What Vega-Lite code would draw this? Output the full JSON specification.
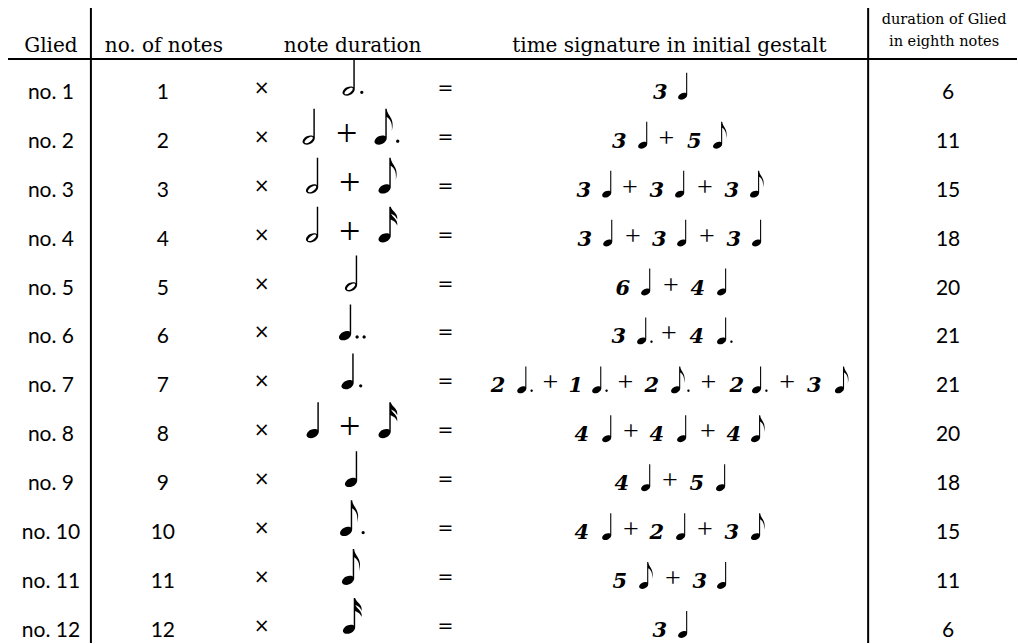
{
  "$schema": "https://vega.github.io/schema/vega-lite/v6.json",
  "width": 1018,
  "height": 644,
  "padding": 0,
  "autosize": {"type": "fit", "contains": "padding"},
  "background": "white",
  "config": {"view": {"stroke": null}},
  "datasets": {
    "lines": [
      {"x": 91, "x2": 91, "r": -0.694, "r2": 12.2857},
      {"x": 869, "x2": 869, "r": -0.694, "r2": 12.2857},
      {"x": 8, "x2": 1018, "r": 0.3469, "r2": 0.3469}
    ],
    "cells": [
      {"r": 0.2041, "x": 51, "t": "Glied", "k": "hd"},
      {"r": 0.2041, "x": 164, "t": "no. of notes", "k": "hd"},
      {"r": 0.2041, "x": 353, "t": "note duration", "k": "hd"},
      {"r": 0.2041, "x": 670, "t": "time signature in initial gestalt", "k": "hd"},
      {"r": -0.367, "x": 945, "t": "duration of Glied", "k": "hd2"},
      {"r": 0.0816, "x": 945, "t": "in eighth notes", "k": "hd2"},

      {"r": 1, "x": 51, "t": "no. 1", "k": "lab"},
      {"r": 2, "x": 51, "t": "no. 2", "k": "lab"},
      {"r": 3, "x": 51, "t": "no. 3", "k": "lab"},
      {"r": 4, "x": 51, "t": "no. 4", "k": "lab"},
      {"r": 5, "x": 51, "t": "no. 5", "k": "lab"},
      {"r": 6, "x": 51, "t": "no. 6", "k": "lab"},
      {"r": 7, "x": 51, "t": "no. 7", "k": "lab"},
      {"r": 8, "x": 51, "t": "no. 8", "k": "lab"},
      {"r": 9, "x": 51, "t": "no. 9", "k": "lab"},
      {"r": 10, "x": 51, "t": "no. 10", "k": "lab"},
      {"r": 11, "x": 51, "t": "no. 11", "k": "lab"},
      {"r": 12, "x": 51, "t": "no. 12", "k": "lab"},

      {"r": 1, "x": 163, "t": "1", "k": "lab"},
      {"r": 2, "x": 163, "t": "2", "k": "lab"},
      {"r": 3, "x": 163, "t": "3", "k": "lab"},
      {"r": 4, "x": 163, "t": "4", "k": "lab"},
      {"r": 5, "x": 163, "t": "5", "k": "lab"},
      {"r": 6, "x": 163, "t": "6", "k": "lab"},
      {"r": 7, "x": 163, "t": "7", "k": "lab"},
      {"r": 8, "x": 163, "t": "8", "k": "lab"},
      {"r": 9, "x": 163, "t": "9", "k": "lab"},
      {"r": 10, "x": 163, "t": "10", "k": "lab"},
      {"r": 11, "x": 163, "t": "11", "k": "lab"},
      {"r": 12, "x": 163, "t": "12", "k": "lab"},

      {"r": 1, "x": 949, "t": "6", "k": "lab"},
      {"r": 2, "x": 949, "t": "11", "k": "lab"},
      {"r": 3, "x": 949, "t": "15", "k": "lab"},
      {"r": 4, "x": 949, "t": "18", "k": "lab"},
      {"r": 5, "x": 949, "t": "20", "k": "lab"},
      {"r": 6, "x": 949, "t": "21", "k": "lab"},
      {"r": 7, "x": 949, "t": "21", "k": "lab"},
      {"r": 8, "x": 949, "t": "20", "k": "lab"},
      {"r": 9, "x": 949, "t": "18", "k": "lab"},
      {"r": 10, "x": 949, "t": "15", "k": "lab"},
      {"r": 11, "x": 949, "t": "11", "k": "lab"},
      {"r": 12, "x": 949, "t": "6", "k": "lab"},

      {"r": 1, "x": 262, "t": "×", "k": "op"}, {"r": 1, "x": 446, "t": "=", "k": "op"},
      {"r": 2, "x": 262, "t": "×", "k": "op"}, {"r": 2, "x": 446, "t": "=", "k": "op"},
      {"r": 3, "x": 262, "t": "×", "k": "op"}, {"r": 3, "x": 446, "t": "=", "k": "op"},
      {"r": 4, "x": 262, "t": "×", "k": "op"}, {"r": 4, "x": 446, "t": "=", "k": "op"},
      {"r": 5, "x": 262, "t": "×", "k": "op"}, {"r": 5, "x": 446, "t": "=", "k": "op"},
      {"r": 6, "x": 262, "t": "×", "k": "op"}, {"r": 6, "x": 446, "t": "=", "k": "op"},
      {"r": 7, "x": 262, "t": "×", "k": "op"}, {"r": 7, "x": 446, "t": "=", "k": "op"},
      {"r": 8, "x": 262, "t": "×", "k": "op"}, {"r": 8, "x": 446, "t": "=", "k": "op"},
      {"r": 9, "x": 262, "t": "×", "k": "op"}, {"r": 9, "x": 446, "t": "=", "k": "op"},
      {"r": 10, "x": 262, "t": "×", "k": "op"}, {"r": 10, "x": 446, "t": "=", "k": "op"},
      {"r": 11, "x": 262, "t": "×", "k": "op"}, {"r": 11, "x": 446, "t": "=", "k": "op"},
      {"r": 12, "x": 262, "t": "×", "k": "op"}, {"r": 12, "x": 446, "t": "=", "k": "op"},

      {"r": 1, "x": 352.6, "t": "hd", "k": "bn"},
      {"r": 2, "x": 312.6, "t": "h", "k": "bn"}, {"r": 2, "x": 347, "t": "+", "k": "bp"}, {"r": 2, "x": 384.6, "t": "ed", "k": "bn"},
      {"r": 3, "x": 316, "t": "h", "k": "bn"}, {"r": 3, "x": 350, "t": "+", "k": "bp"}, {"r": 3, "x": 388.6, "t": "e", "k": "bn"},
      {"r": 4, "x": 316, "t": "h", "k": "bn"}, {"r": 4, "x": 350, "t": "+", "k": "bp"}, {"r": 4, "x": 388.6, "t": "s", "k": "bn"},
      {"r": 5, "x": 355, "t": "h", "k": "bn"},
      {"r": 6, "x": 349, "t": "qdd", "k": "bn"},
      {"r": 7, "x": 351.5, "t": "qd", "k": "bn"},
      {"r": 8, "x": 316.6, "t": "q", "k": "bn"}, {"r": 8, "x": 350, "t": "+", "k": "bp"}, {"r": 8, "x": 388.6, "t": "s", "k": "bn"},
      {"r": 9, "x": 355, "t": "q", "k": "bn"},
      {"r": 10, "x": 350, "t": "ed", "k": "bn"},
      {"r": 11, "x": 352, "t": "e", "k": "bn"},
      {"r": 12, "x": 353, "t": "s", "k": "bn"},

      {"r": 1, "x": 661, "t": "3", "k": "num"}, {"r": 1, "x": 686, "t": "q", "k": "sn"},

      {"r": 2, "x": 620, "t": "3", "k": "num"}, {"r": 2, "x": 646, "t": "q", "k": "sn"}, {"r": 2, "x": 667, "t": "+", "k": "sp"},
      {"r": 2, "x": 695, "t": "5", "k": "num"}, {"r": 2, "x": 721, "t": "e", "k": "sn"},

      {"r": 3, "x": 584.5, "t": "3", "k": "num"}, {"r": 3, "x": 610, "t": "q", "k": "sn"}, {"r": 3, "x": 630.5, "t": "+", "k": "sp"},
      {"r": 3, "x": 657.5, "t": "3", "k": "num"}, {"r": 3, "x": 683, "t": "q", "k": "sn"}, {"r": 3, "x": 705.5, "t": "+", "k": "sp"},
      {"r": 3, "x": 732.5, "t": "3", "k": "num"}, {"r": 3, "x": 758, "t": "e", "k": "sn"},

      {"r": 4, "x": 585.5, "t": "3", "k": "num"}, {"r": 4, "x": 611, "t": "q", "k": "sn"}, {"r": 4, "x": 633.5, "t": "+", "k": "sp"},
      {"r": 4, "x": 660, "t": "3", "k": "num"}, {"r": 4, "x": 685, "t": "q", "k": "sn"}, {"r": 4, "x": 707.5, "t": "+", "k": "sp"},
      {"r": 4, "x": 734.5, "t": "3", "k": "num"}, {"r": 4, "x": 760, "t": "q", "k": "sn"},

      {"r": 5, "x": 623.5, "t": "6", "k": "num"}, {"r": 5, "x": 649, "t": "q", "k": "sn"}, {"r": 5, "x": 671.5, "t": "+", "k": "sp"},
      {"r": 5, "x": 698.5, "t": "4", "k": "num"}, {"r": 5, "x": 725, "t": "q", "k": "sn"},

      {"r": 6, "x": 619.5, "t": "3", "k": "num"}, {"r": 6, "x": 645, "t": "qd", "k": "sn"}, {"r": 6, "x": 669.5, "t": "+", "k": "sp"},
      {"r": 6, "x": 697.5, "t": "4", "k": "num"}, {"r": 6, "x": 725, "t": "qd", "k": "sn"},

      {"r": 7, "x": 498.5, "t": "2", "k": "num"}, {"r": 7, "x": 525, "t": "qd", "k": "sn"}, {"r": 7, "x": 551, "t": "+", "k": "sp"},
      {"r": 7, "x": 576.5, "t": "1", "k": "num"}, {"r": 7, "x": 600, "t": "qd", "k": "sn"}, {"r": 7, "x": 626, "t": "+", "k": "sp"},
      {"r": 7, "x": 652.5, "t": "2", "k": "num"}, {"r": 7, "x": 679, "t": "ed", "k": "sn"}, {"r": 7, "x": 709, "t": "+", "k": "sp"},
      {"r": 7, "x": 737.5, "t": "2", "k": "num"}, {"r": 7, "x": 760, "t": "qd", "k": "sn"}, {"r": 7, "x": 788, "t": "+", "k": "sp"},
      {"r": 7, "x": 815, "t": "3", "k": "num"}, {"r": 7, "x": 843, "t": "e", "k": "sn"},

      {"r": 8, "x": 582.5, "t": "4", "k": "num"}, {"r": 8, "x": 610, "t": "q", "k": "sn"}, {"r": 8, "x": 631.5, "t": "+", "k": "sp"},
      {"r": 8, "x": 657.5, "t": "4", "k": "num"}, {"r": 8, "x": 685, "t": "q", "k": "sn"}, {"r": 8, "x": 708.5, "t": "+", "k": "sp"},
      {"r": 8, "x": 734.5, "t": "4", "k": "num"}, {"r": 8, "x": 759, "t": "e", "k": "sn"},

      {"r": 9, "x": 622.5, "t": "4", "k": "num"}, {"r": 9, "x": 649, "t": "q", "k": "sn"}, {"r": 9, "x": 670.5, "t": "+", "k": "sp"},
      {"r": 9, "x": 697.5, "t": "5", "k": "num"}, {"r": 9, "x": 724, "t": "q", "k": "sn"},

      {"r": 10, "x": 582.5, "t": "4", "k": "num"}, {"r": 10, "x": 610, "t": "q", "k": "sn"}, {"r": 10, "x": 631.5, "t": "+", "k": "sp"},
      {"r": 10, "x": 657.5, "t": "2", "k": "num"}, {"r": 10, "x": 684, "t": "q", "k": "sn"}, {"r": 10, "x": 705.5, "t": "+", "k": "sp"},
      {"r": 10, "x": 732.5, "t": "3", "k": "num"}, {"r": 10, "x": 759, "t": "e", "k": "sn"},

      {"r": 11, "x": 620.5, "t": "5", "k": "num"}, {"r": 11, "x": 647, "t": "e", "k": "sn"}, {"r": 11, "x": 673.5, "t": "+", "k": "sp"},
      {"r": 11, "x": 700.5, "t": "3", "k": "num"}, {"r": 11, "x": 725, "t": "q", "k": "sn"},

      {"r": 12, "x": 660.5, "t": "3", "k": "num"}, {"r": 12, "x": 686, "t": "q", "k": "sn"}
    ]
  },
  "layer": [
    {
      "data": {"name": "lines"},
      "mark": {"type": "rule", "color": "black", "strokeWidth": 2},
      "encoding": {
        "x": {"field": "x", "type": "quantitative", "scale": {"domain": [0, 1018], "nice": false, "zero": false}, "axis": null},
        "x2": {"field": "x2"},
        "y": {"field": "r", "type": "quantitative", "scale": {"domain": [-0.857143, 12.285714], "reverse": true, "nice": false, "zero": false}, "axis": null},
        "y2": {"field": "r2"}
      }
    },
    {
      "data": {"name": "cells"},
      "transform": [{"filter": "datum.k === 'hd'"}],
      "mark": {"type": "text", "font": "DejaVu Serif", "fontSize": 20, "align": "center", "baseline": "alphabetic", "color": "black"},
      "encoding": {
        "x": {"field": "x", "type": "quantitative"},
        "y": {"field": "r", "type": "quantitative"},
        "text": {"field": "t"}
      }
    },
    {
      "data": {"name": "cells"},
      "transform": [{"filter": "datum.k === 'hd2'"}],
      "mark": {"type": "text", "font": "DejaVu Serif", "fontSize": 14.5, "align": "center", "baseline": "alphabetic", "color": "black"},
      "encoding": {
        "x": {"field": "x", "type": "quantitative"},
        "y": {"field": "r", "type": "quantitative"},
        "text": {"field": "t"}
      }
    },
    {
      "data": {"name": "cells"},
      "transform": [{"filter": "datum.k === 'lab'"}],
      "mark": {"type": "text", "font": "Lato", "fontSize": 21, "align": "center", "baseline": "alphabetic", "yOffset": 8, "color": "black"},
      "encoding": {
        "x": {"field": "x", "type": "quantitative"},
        "y": {"field": "r", "type": "quantitative"},
        "text": {"field": "t"}
      }
    },
    {
      "data": {"name": "cells"},
      "transform": [{"filter": "datum.k === 'op'"}],
      "mark": {"type": "text", "font": "DejaVu Sans", "fontSize": 19, "align": "center", "baseline": "middle", "yOffset": -3, "color": "black"},
      "encoding": {
        "x": {"field": "x", "type": "quantitative"},
        "y": {"field": "r", "type": "quantitative"},
        "text": {"field": "t"}
      }
    },
    {
      "data": {"name": "cells"},
      "transform": [{"filter": "datum.k === 'bp'"}],
      "mark": {"type": "text", "font": "Liberation Serif", "fontSize": 38, "align": "center", "baseline": "middle", "yOffset": -5, "color": "black"},
      "encoding": {
        "x": {"field": "x", "type": "quantitative"},
        "y": {"field": "r", "type": "quantitative"},
        "text": {"field": "t"}
      }
    },
    {
      "data": {"name": "cells"},
      "transform": [{"filter": "datum.k === 'sp'"}],
      "mark": {"type": "text", "font": "Liberation Serif", "fontSize": 28, "align": "center", "baseline": "middle", "yOffset": -1, "color": "black"},
      "encoding": {
        "x": {"field": "x", "type": "quantitative"},
        "y": {"field": "r", "type": "quantitative"},
        "text": {"field": "t"}
      }
    },
    {
      "data": {"name": "cells"},
      "transform": [{"filter": "datum.k === 'num'"}],
      "mark": {"type": "text", "font": "DejaVu Serif", "fontSize": 21, "fontWeight": "bold", "fontStyle": "italic", "align": "center", "baseline": "alphabetic", "yOffset": 8, "color": "black"},
      "encoding": {
        "x": {"field": "x", "type": "quantitative"},
        "y": {"field": "r", "type": "quantitative"},
        "text": {"field": "t"}
      }
    },
    {
      "data": {"name": "cells"},
      "transform": [{"filter": "datum.k === 'bn'"}],
      "mark": {"type": "point", "filled": true, "size": 1296, "opacity": 1, "color": "black", "strokeWidth": 0, "yOffset": -13},
      "encoding": {
        "x": {"field": "x", "type": "quantitative"},
        "y": {"field": "r", "type": "quantitative"},
        "shape": {
          "field": "t", "type": "nominal", "legend": null,
          "scale": {
            "domain": ["h", "hd", "q", "qd", "qdd", "e", "ed", "s"],
            "range": [
              "M-0.526,0.887A0.36,0.24,-25,0,1,0.126,0.583A0.36,0.24,-25,0,1,-0.526,0.887ZM-0.421,0.89A0.27,0.12,-35,0,0,0.021,0.58A0.27,0.12,-35,0,0,-0.421,0.89ZM0.06,0.65L0.06,-1L0.14,-1L0.14,0.65Z",
              "M-0.526,0.887A0.36,0.24,-25,0,1,0.126,0.583A0.36,0.24,-25,0,1,-0.526,0.887ZM-0.421,0.89A0.27,0.12,-35,0,0,0.021,0.58A0.27,0.12,-35,0,0,-0.421,0.89ZM0.06,0.65L0.06,-1L0.14,-1L0.14,0.65ZM0.44,0.8A0.09,0.09,0,0,1,0.62,0.8A0.09,0.09,0,0,1,0.44,0.8Z",
              "M-0.526,0.887A0.36,0.24,-25,0,1,0.126,0.583A0.36,0.24,-25,0,1,-0.526,0.887ZM0.06,0.65L0.06,-1L0.14,-1L0.14,0.65Z",
              "M-0.526,0.887A0.36,0.24,-25,0,1,0.126,0.583A0.36,0.24,-25,0,1,-0.526,0.887ZM0.06,0.65L0.06,-1L0.14,-1L0.14,0.65ZM0.44,0.8A0.09,0.09,0,0,1,0.62,0.8A0.09,0.09,0,0,1,0.44,0.8Z",
              "M-0.526,0.887A0.36,0.24,-25,0,1,0.126,0.583A0.36,0.24,-25,0,1,-0.526,0.887ZM0.06,0.65L0.06,-1L0.14,-1L0.14,0.65ZM0.38,0.8A0.09,0.09,0,0,1,0.56,0.8A0.09,0.09,0,0,1,0.38,0.8ZM0.77,0.8A0.09,0.09,0,0,1,0.95,0.8A0.09,0.09,0,0,1,0.77,0.8Z",
              "M-0.526,0.887A0.36,0.24,-25,0,1,0.126,0.583A0.36,0.24,-25,0,1,-0.526,0.887ZM0.06,0.65L0.06,-1L0.14,-1L0.14,0.65ZM0.06,-1L0.14,-1C0.16,-0.6,0.62,-0.5,0.42,0.25C0.48,-0.25,0.3,-0.45,0.14,-0.55L0.06,-0.55Z",
              "M-0.526,0.887A0.36,0.24,-25,0,1,0.126,0.583A0.36,0.24,-25,0,1,-0.526,0.887ZM0.06,0.65L0.06,-1L0.14,-1L0.14,0.65ZM0.06,-1L0.14,-1C0.16,-0.6,0.62,-0.5,0.42,0.25C0.48,-0.25,0.3,-0.45,0.14,-0.55L0.06,-0.55ZM0.66,0.8A0.09,0.09,0,0,1,0.84,0.8A0.09,0.09,0,0,1,0.66,0.8Z",
              "M-0.526,0.887A0.36,0.24,-25,0,1,0.126,0.583A0.36,0.24,-25,0,1,-0.526,0.887ZM0.06,0.65L0.06,-1L0.14,-1L0.14,0.65ZM0.06,-1L0.14,-1C0.22,-0.72,0.56,-0.66,0.5,-0.28C0.42,-0.5,0.28,-0.55,0.14,-0.62L0.06,-0.62ZM0.06,-0.66L0.14,-0.66C0.22,-0.38,0.56,-0.32,0.5,0.06C0.42,-0.16,0.28,-0.21,0.14,-0.28L0.06,-0.28Z"
            ]
          }
        }
      }
    },
    {
      "data": {"name": "cells"},
      "transform": [{"filter": "datum.k === 'sn'"}],
      "mark": {"type": "point", "filled": true, "size": 729, "opacity": 1, "color": "black", "strokeWidth": 0, "yOffset": -4.5},
      "encoding": {
        "x": {"field": "x", "type": "quantitative"},
        "y": {"field": "r", "type": "quantitative"},
        "shape": {"field": "t", "type": "nominal", "legend": null}
      }
    }
  ]
}
